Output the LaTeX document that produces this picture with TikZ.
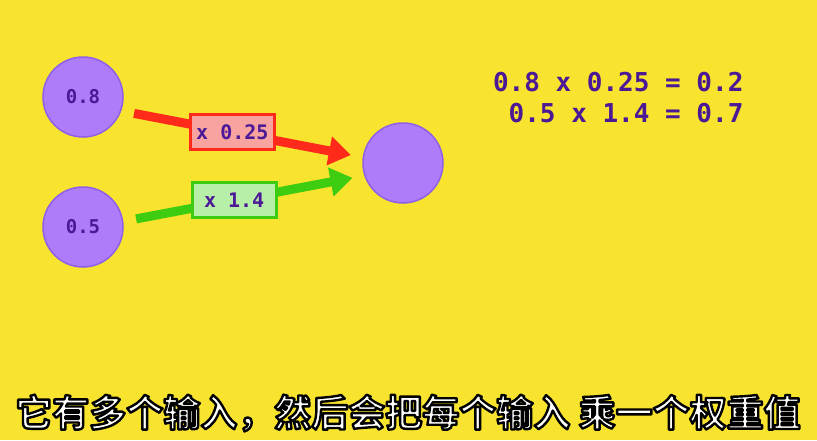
\documentclass[tikz,border=0pt]{standalone}
\usepackage{fontspec}
\setmonofont{DejaVu Sans Mono}
\newfontfamily\cjk{Noto Sans CJK SC Bold}
\usetikzlibrary{arrows.meta}

\definecolor{bgyellow}{HTML}{F8E32E}
\definecolor{neuron}{HTML}{AE7CF8}
\definecolor{neuronedge}{HTML}{8E5FE8}
\definecolor{ink}{HTML}{4B1896}
\definecolor{wred}{HTML}{FF2A1A}
\definecolor{wpink}{HTML}{F7A3A0}
\definecolor{wgreen}{HTML}{3DCC10}
\definecolor{wlight}{HTML}{B8EFA8}

% white subtitle text with a black outline (fill + stroke)
\newcommand\outlined[1]{\special{pdf:literal direct 2 Tr 2.4 w 1 j 0 G}#1\special{pdf:literal direct 0 Tr}}

\begin{document}
\begin{tikzpicture}[x=1pt,y=-1pt,
  neuron/.style={circle,draw=neuronedge,line width=1.5pt,fill=neuron,
    minimum size=80pt,inner sep=0pt,text=ink,
    font=\ttfamily\bfseries\fontsize{19}{19}\selectfont},
  weight/.style={draw,line width=3pt,minimum width=84pt,minimum height=35pt,
    inner sep=0pt,text=ink,font=\ttfamily\bfseries\fontsize{20}{20}\selectfont},
  link/.style={line width=9pt,shorten <=13pt,shorten >=12pt,
    -{Triangle[length=22pt,width=28pt]}},
  sum/.style={anchor=east,text=ink,font=\ttfamily\bfseries\fontsize{26}{26}\selectfont}]
  \fill[bgyellow] (0,0) rectangle (817,440);
  \useasboundingbox (0,0) rectangle (817,440);

  \node[neuron] (in1) at (83,97) {0.8};
  \node[neuron] (in2) at (83,227) {0.5};
  \node[neuron] (out) at (403,163) {};

  \draw[link,wred] (in1.-20) -- node[weight,pos=0.46,draw=wred,fill=wpink] (w1) {x 0.25} (out.172);
  \draw[link,wgreen] (in2.8) -- node[weight,pos=0.46,draw=wgreen,fill=wlight] (w2) {x 1.4} (out.198);

  \node[sum] (eq1) at (747,82) {0.8 x 0.25 = 0.2};
  \node[sum] (eq2) at (747,113) {0.5 x 1.4 = 0.7};

  \node[text=white,font=\cjk\fontsize{37}{37}\selectfont] (caption) at (408,413)
    {\outlined{它有多个输入，然后会把每个输入 乘一个权重值}};
\end{tikzpicture}
\end{document}
